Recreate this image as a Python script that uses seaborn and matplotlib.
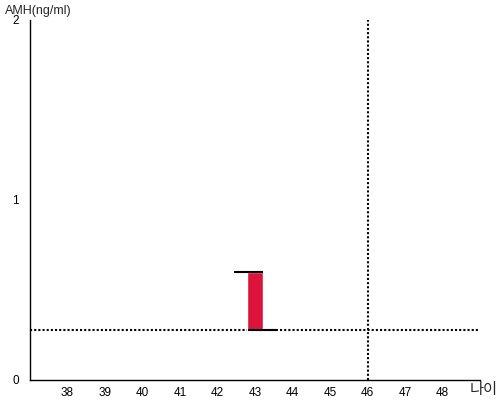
import matplotlib
matplotlib.use("Agg")
import matplotlib.pyplot as plt
import seaborn as sns

# data
ages = [43]
amh_low = [0.28]
amh_high = [0.60]
ref_amh = 0.28
ref_age = 46
xticks = list(range(38, 49))
yticks = [0, 1, 2]

sns.set_style("white")
plt.rcParams['font.family'] = ['Liberation Sans', 'Noto Sans CJK KR', 'DejaVu Sans']

fig = plt.figure(figsize=(5, 4), dpi=100)
ax = fig.add_axes([0.06, 0.05, 0.90, 0.90])

heights = [h - l for h, l in zip(amh_high, amh_low)]
ax.bar(ages, heights, bottom=amh_low, width=0.43, color='#DC143C', zorder=2)

# caps: top one shifted left, bottom one shifted right
for a, lo, hi in zip(ages, amh_low, amh_high):
    ax.hlines(hi, a - 0.55, a + 0.2, color='black', lw=1.5, zorder=3)
    ax.hlines(lo, a - 0.2, a + 0.55, color='black', lw=1.5, zorder=3)

ax.axhline(ref_amh, color='black', lw=1.5, ls=(0, (1, 1)), zorder=1)
ax.axvline(ref_age, color='black', lw=1.5, ls=(0, (1, 1)), zorder=1)

ax.set_xlim(37, 49)
ax.set_ylim(0, 2)
ax.set_xticks(xticks)
ax.set_xticklabels([str(t) for t in xticks])
ax.set_yticks(yticks)
ax.set_yticklabels([str(t) for t in yticks])
ax.tick_params(axis='both', length=0, labelsize=8.5, colors='black', pad=5)
ax.tick_params(axis='y', pad=8)

sns.despine(ax=ax)
for s in ['left', 'bottom']:
    ax.spines[s].set_color('black')
    ax.spines[s].set_linewidth(1)

fig.text(0.010, 0.958, 'AMH(ng/ml)', fontsize=9, ha='left', va='bottom')
fig.text(0.995, 0.024, '나이', fontsize=11, ha='right', va='center')

fig.savefig('out.png', dpi=100)
